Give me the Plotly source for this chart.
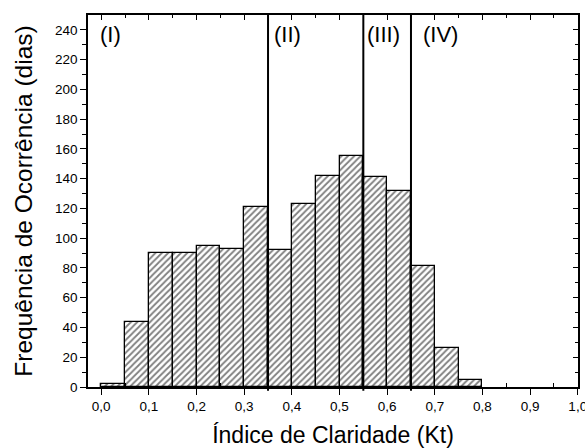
import plotly.graph_objects as go

bin_starts = [0.00, 0.05, 0.10, 0.15, 0.20, 0.25, 0.30, 0.35, 0.40, 0.45, 0.50, 0.55, 0.60, 0.65, 0.70, 0.75]
counts = [2, 44, 90, 90, 95, 93, 121, 92, 123, 142, 155, 141, 132, 81, 26, 5]
bin_width = 0.05
dividers = [0.35, 0.55, 0.65]
region_labels = ["(I)", "(II)", "(III)", "(IV)"]
region_label_x = [-0.007, 0.358, 0.553, 0.670]
x_title = "Índice de Claridade (Kt)"
y_title = "Frequência de Ocorrência (dias)"
x_major = [0.0, 0.1, 0.2, 0.3, 0.4, 0.5, 0.6, 0.7, 0.8, 0.9, 1.0]
x_minor = [0.05, 0.15, 0.25, 0.35, 0.45, 0.55, 0.65, 0.75, 0.85, 0.95]
y_major = list(range(0, 250, 20))
y_minor = list(range(10, 250, 20))

FONT = "Liberation Sans"
xr = [-0.0278, 1.0005]
yr = [0, 250]

fig = go.Figure()
fig.add_trace(go.Bar(
    x=[s + bin_width / 2 for s in bin_starts],
    y=counts,
    width=[bin_width] * len(counts),
    marker=dict(
        color="white",
        line=dict(color="black", width=1.3),
        pattern=dict(shape="/", fgcolor="black", bgcolor="white", size=4.5, solidity=0.4),
    ),
    showlegend=False,
    hoverinfo="skip",
))
fig.add_trace(go.Scatter(x=[None], y=[None], xaxis="x2", yaxis="y2", showlegend=False))

for d in dividers:
    fig.add_shape(type="line", xref="x", yref="paper", x0=d, x1=d, y0=-0.01, y1=1,
                  line=dict(color="black", width=2))

for lab, lx in zip(region_labels, region_label_x):
    fig.add_annotation(x=lx, y=237, xref="x", yref="y", text=lab, showarrow=False,
                       xanchor="left", yanchor="middle",
                       font=dict(family=FONT, size=22, color="black"))

fig.update_layout(
    width=585, height=448,
    margin=dict(l=88, r=7, t=15, b=61),
    paper_bgcolor="white", plot_bgcolor="white",
    separators=",.",
    bargap=0,
    font=dict(family=FONT, color="black"),
    xaxis=dict(
        range=xr, tickvals=x_major, ticklabeloverflow="allow", automargin=False,
        tickformat=".1f", ticks="outside", ticklen=6, tickwidth=1.2, tickcolor="black",
        minor=dict(tickvals=x_minor, ticks="inside", ticklen=4, tickcolor="black", tickwidth=1),
        showline=True, linecolor="black", linewidth=1.5, showgrid=False, zeroline=False,
        tickfont=dict(size=13.5, family=FONT, color="black"),
        title=dict(text=x_title, font=dict(size=23, family=FONT, color="black"), standoff=14),
    ),
    yaxis=dict(
        range=yr, tickvals=y_major, ticks="outside", ticklen=6, automargin=False,
        tickwidth=1.2, tickcolor="black",
        minor=dict(tickvals=y_minor, ticks="outside", ticklen=4, tickcolor="black", tickwidth=1),
        showline=True, linecolor="black", linewidth=1.5, showgrid=False, zeroline=False,
        tickfont=dict(size=13.5, family=FONT, color="black"),
        title=dict(text=y_title, font=dict(size=24.5, family=FONT, color="black"), standoff=15),
    ),
    xaxis2=dict(
        range=xr, overlaying="x", side="top", showticklabels=False, automargin=False,
        tickvals=x_major, ticks="inside", ticklen=5, tickcolor="black",
        minor=dict(tickvals=x_minor, ticks="inside", ticklen=3, tickcolor="black"),
        showline=True, linecolor="black", linewidth=1.5, showgrid=False, zeroline=False,
    ),
    yaxis2=dict(
        range=yr, overlaying="y", side="right", showticklabels=False, automargin=False,
        tickvals=y_major, ticks="inside", ticklen=5, tickcolor="black",
        minor=dict(tickvals=y_minor, ticks="inside", ticklen=3, tickcolor="black"),
        showline=True, linecolor="black", linewidth=1.5, showgrid=False, zeroline=False,
    ),
)

fig.write_html("out.html")
